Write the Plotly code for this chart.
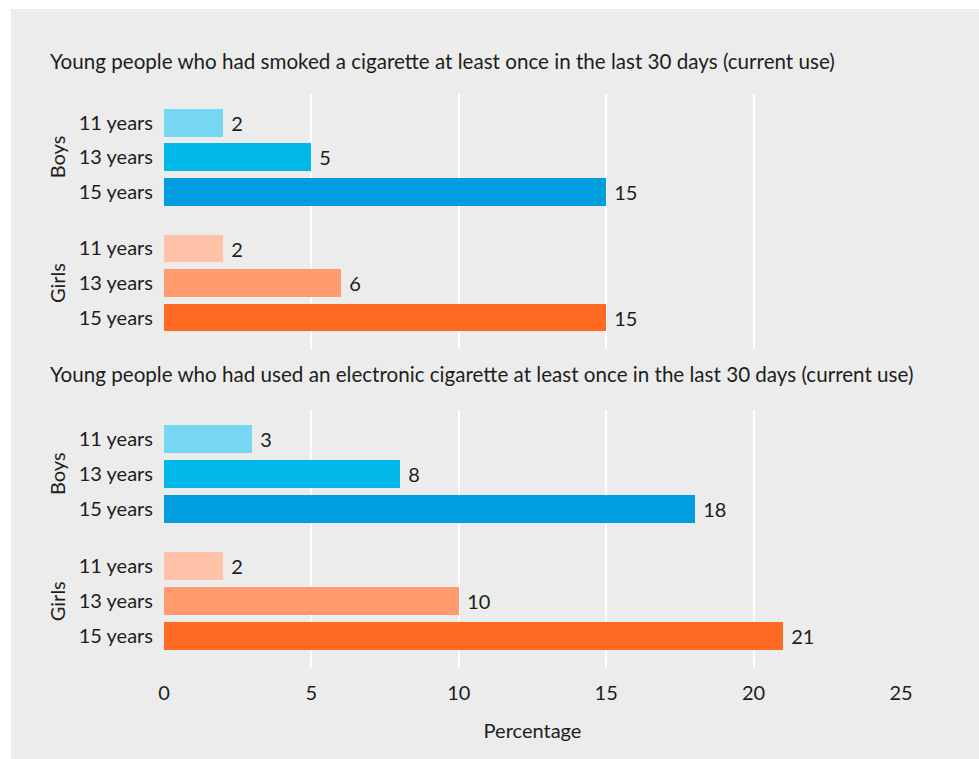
import plotly.graph_objects as go

# ---- data -------------------------------------------------------------
ages = ["11 years", "13 years", "15 years"]
groups = ["Boys", "Girls"]

cigarette_boys = [2, 5, 15]
cigarette_girls = [2, 6, 15]
ecigarette_boys = [3, 8, 18]
ecigarette_girls = [2, 10, 21]

panel_titles = [
    "Young people who had smoked a cigarette at least once in the last 30 days (current use)",
    "Young people who had used an electronic cigarette at least once in the last 30 days (current use)",
]
x_ticks = [0, 5, 10, 15, 20, 25]

# ---- styling ----------------------------------------------------------
W, H = 979, 759
FONT = "Lato"
FS = 20
TITLE_FS = 20.6
TXT = "#1d1d1b"
BG = "#ebeceb"
boys_colors = ["#76d7f2", "#00b9e9", "#009ee0"]
girls_colors = ["#ffc2a8", "#ff9b6e", "#ff6922"]

# row positions on the category axis (gap between the two groups)
boys_pos = [0, 1, 2]
girls_pos = [3.64, 4.64, 5.64]
y_range = [6.55, -0.83]

fig = go.Figure()

panels = [
    (cigarette_boys, cigarette_girls, "x", "y"),
    (ecigarette_boys, ecigarette_girls, "x2", "y2"),
]
for boys_vals, girls_vals, xa, ya in panels:
    for vals, pos, cols, name in [
        (boys_vals, boys_pos, boys_colors, groups[0]),
        (girls_vals, girls_pos, girls_colors, groups[1]),
    ]:
        fig.add_trace(go.Bar(
            x=vals, y=pos, orientation="h", width=0.8,
            marker=dict(color=cols, line=dict(width=0)),
            text=vals, texttemplate="\u00a0%{x}", textposition="outside",
            textfont=dict(family=FONT, size=FS, color=TXT),
            cliponaxis=False, name=name, showlegend=False,
            xaxis=xa, yaxis=ya, hoverinfo="skip",
        ))

x_dom = [164 / W, 901 / W]


def ydom(top, bottom):
    return [1 - bottom / H, 1 - top / H]


common_x = dict(
    domain=x_dom, range=[0, 25], tickvals=x_ticks, automargin=False,
    showgrid=True, gridcolor="white", gridwidth=1.5,
    zeroline=False, showline=False,
    tickfont=dict(family=FONT, size=FS, color=TXT),
    ticks="outside", ticklen=7, tickcolor="rgba(0,0,0,0)",
)
common_y = dict(
    range=y_range, tickvals=boys_pos + girls_pos, ticktext=ages + ages,
    automargin=False,
    showgrid=False, zeroline=False, showline=False,
    tickfont=dict(family=FONT, size=FS, color=TXT),
    ticks="outside", ticklen=6, tickcolor="rgba(0,0,0,0)",
)

fig.update_layout(
    width=W, height=H,
    margin=dict(l=0, r=0, t=0, b=0, pad=0, autoexpand=False),
    paper_bgcolor=BG, plot_bgcolor=BG,
    font=dict(family=FONT, size=FS, color=TXT),
    bargap=0,
    xaxis=dict(common_x, anchor="y", showticklabels=False),
    yaxis=dict(common_y, domain=ydom(94, 349), anchor="x"),
    xaxis2=dict(common_x, anchor="y2",
                title=dict(text="Percentage", standoff=20,
                           font=dict(family=FONT, size=FS, color=TXT))),
    yaxis2=dict(common_y, domain=ydom(410, 668), anchor="x2"),
    # white page margin along the top and left edges
    shapes=[
        dict(type="rect", xref="paper", yref="paper",
             x0=-0.01, x1=1.01, y0=1 - 9 / H, y1=1.01,
             fillcolor="white", line=dict(width=0), layer="below"),
        dict(type="rect", xref="paper", yref="paper",
             x0=-0.01, x1=11 / W, y0=-0.01, y1=1.01,
             fillcolor="white", line=dict(width=0), layer="below"),
    ],
)

annotations = []
for title, ty in zip(panel_titles, [61, 374]):
    annotations.append(dict(
        text=title, xref="paper", yref="paper", x=48 / W, y=1 - ty / H,
        xanchor="left", yanchor="middle", showarrow=False,
        font=dict(family=FONT, size=TITLE_FS, color=TXT)))
for ya in ["y", "y2"]:
    for g, pos in zip(groups, [boys_pos, girls_pos]):
        annotations.append(dict(
            text=g, xref="paper", yref=ya, x=57 / W, y=pos[1],
            xanchor="center", yanchor="middle", textangle=-90,
            showarrow=False, font=dict(family=FONT, size=FS, color=TXT)))
fig.update_layout(annotations=annotations)

fig.write_html("out.html")
